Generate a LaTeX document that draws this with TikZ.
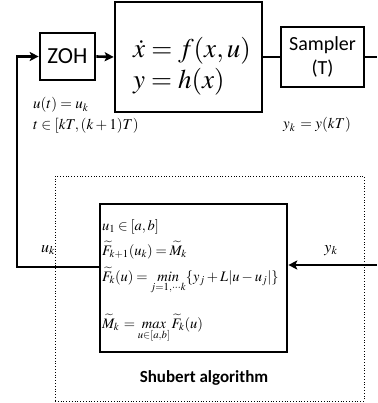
\documentclass[tikz,border=0pt]{standalone}
\usepackage{mathptmx}
\usepackage{fontspec}
\setmainfont{Liberation Serif}
\setsansfont{Carlito}
\usetikzlibrary{arrows.meta}
\newcommand{\tightrel}{\thickmuskip=3.5mu plus 2mu\relax}
\tikzset{
  blk/.style={draw, line width=2.6pt, inner sep=0pt, fill=white},
  conn/.style={line width=2.6pt},
  arr/.style={line width=2.6pt, -{Stealth[length=9pt,width=9pt,inset=2pt]}},
  sansbig/.style={font=\sffamily\fontsize{20}{24}\selectfont, align=center},
  mtext/.style={inner sep=0pt, font=\fontsize{14.5}{16}\selectfont},
  ltext/.style={inner sep=0pt, font=\fontsize{15}{17}\selectfont},
  eqtext/.style={inner sep=0pt, font=\fontsize{27}{30}\selectfont},
}
\begin{document}
\begin{tikzpicture}[x=1pt,y=-1pt]
\useasboundingbox (0,0) rectangle (377,403);
% dotted frame
\node[draw, dotted, line width=0.8pt, minimum width=309pt, minimum height=225pt, inner sep=0pt] (frame) at (209.5,288.5) {};
% blocks
\node[blk, minimum width=147pt, minimum height=110pt] (plant) at (188.5,57) {};
\node[blk, minimum width=55pt, minimum height=47pt, sansbig, font=\sffamily\fontsize{23}{24}\selectfont] (zoh) at (67.5,56.5) {ZOH};
\node[blk, minimum width=83pt, minimum height=60pt, sansbig] (samp) at (322.5,57) {Sampler\\(T)};
\node[blk, minimum width=187pt, minimum height=148pt] (shub) at (193.5,278) {};
% plant equations
\node[eqtext, anchor=base west] (eq1) at (133,58) {$\dot{x}=f(x,u)$};
\node[eqtext, anchor=base west] (eq2) at (133,89) {$y=h(x)$};
% labels
\node[ltext, anchor=base west] (l1) at (33,109) {$u(t)=u_k$};
\node[ltext, anchor=base west] (l2) at (33,130) {$t\in[kT,(k+1)T)$};
\node[ltext, anchor=base west] (l3) at (283,129) {$y_k\,=y(kT)$};
\node[inner sep=0pt, font=\fontsize{16}{18}\selectfont, anchor=base] (uk) at (48,252) {$u_k$};
\node[inner sep=0pt, font=\fontsize{16}{18}\selectfont, anchor=base] (yk) at (331,252) {$y_k$};
% Shubert box contents
\node[mtext, anchor=base west] (s1) at (102,230) {$\tightrel u_1\in[a,b]$};
\node[mtext, anchor=base west] (s2) at (102,255) {$\tightrel \widetilde{F}_{k+1}(u_k)=\widetilde{M}_k$};
\node[mtext, anchor=base west] (s3) at (102,281) {$\tightrel \widetilde{F}_k(u)=\mathop{\mathit{min}}\limits_{j=1,\cdots k}\{y_j+L|u-u_j|\}$};
\node[mtext, anchor=base west] (s4) at (102,328) {$\tightrel \widetilde{M}_k\,=\mathop{\mathit{max}}\limits_{u\in[a,b]}\widetilde{F}_k(u)$};
\node[inner sep=0pt, anchor=base, font=\sffamily\bfseries\fontsize{17}{18}\selectfont] (title) at (204,382) {Shubert algorithm};
% connectors
\coordinate (out) at (377,57);
\coordinate (yin) at (377,265);
\coordinate (fb) at (17,267);
\draw[arr] (zoh.east) -- (plant.west);
\draw[conn] (plant.east) -- (samp.west);
\draw[conn] (samp.east) -- (out);
\draw[arr] (yin) -- (yin -| shub.east);
\draw[arr] (shub.west |- fb) -- (fb) |- (zoh.west);
\end{tikzpicture}
\end{document}
